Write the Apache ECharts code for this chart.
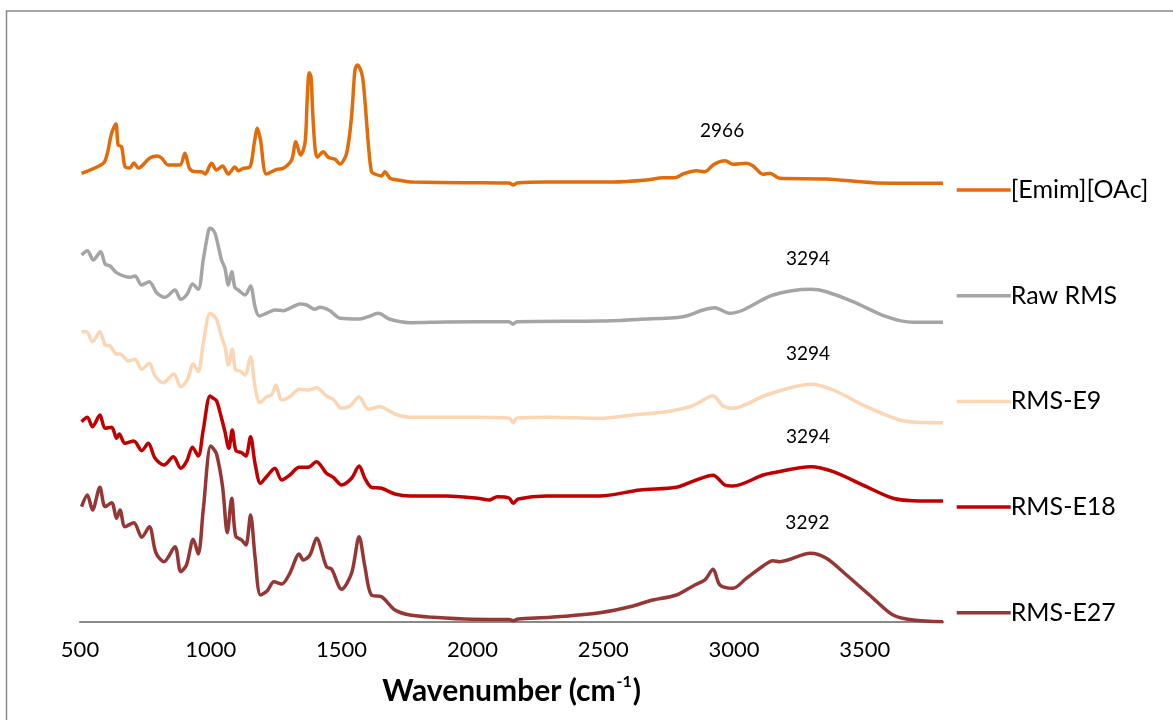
<!DOCTYPE html>
<html>
<head>
<meta charset="utf-8">
<script src="https://cdn.jsdelivr.net/npm/echarts@6/dist/echarts.min.js"></script>
<style>
  html, body { margin: 0; padding: 0; background: #ffffff; }
  #chart { width: 1173px; height: 720px; }
</style>
</head>
<body>
<div id="chart"></div>
<script>
// FTIR spectra, stacked with vertical offsets (absorbance, a.u.)
const seriesNames = ['[Emim][OAc]', 'Raw RMS', 'RMS-E9', 'RMS-E18', 'RMS-E27'];
const seriesColors = ['#E36C0A', '#A5A5A5', '#FCD5B5', '#C00000', '#953735'];

const emimWn  = [506,589,604,621,637,646,659,672,691,706,723,767,795,812,837,882,901,920,946,965,978,1003,1022,1045,1067,1092,1105,1124,1150,1166,1178,1190,1213,1252,1277,1309,1325,1343,1360,1369,1376,1383,1389,1398,1407,1430,1449,1475,1494,1519,1538,1551,1560,1570,1580,1589,1602,1614,1627,1653,1665,1685,1697,1755,1774,1965,2140,2156,2170,2283,2538,2665,2729,2774,2805,2856,2888,2920,2946,2966,2996,3047,3073,3111,3137,3175,3353,3532,3700,3799];
const emimAbs = [4.487,4.587,4.68,4.89,4.98,4.77,4.753,4.553,4.54,4.59,4.54,4.64,4.66,4.64,4.57,4.57,4.687,4.53,4.503,4.503,4.48,4.587,4.52,4.56,4.48,4.55,4.513,4.537,4.553,4.787,4.937,4.82,4.48,4.527,4.537,4.62,4.803,4.67,4.787,5.253,5.493,5.453,5.12,4.753,4.647,4.703,4.647,4.627,4.58,4.687,5.053,5.52,5.57,5.537,5.453,5.22,4.787,4.503,4.48,4.46,4.503,4.437,4.427,4.403,4.40,4.393,4.39,4.37,4.39,4.40,4.40,4.42,4.443,4.443,4.48,4.513,4.503,4.57,4.603,4.613,4.577,4.587,4.56,4.477,4.487,4.437,4.43,4.393,4.387,4.387];

const rawWn  = [506,528,551,579,596,615,640,691,710,736,765,793,825,863,885,910,930,952,971,990,997,1005,1016,1032,1041,1054,1067,1080,1092,1105,1131,1152,1169,1185,1213,1245,1277,1309,1341,1366,1398,1417,1455,1494,1570,1602,1640,1685,1761,1900,2140,2155,2170,2487,2640,2805,2882,2926,2984,3035,3149,3294,3353,3455,3582,3684,3799];
const rawAbs = [3.67,3.713,3.62,3.703,3.58,3.56,3.493,3.447,3.46,3.37,3.403,3.293,3.247,3.32,3.227,3.28,3.38,3.327,3.62,3.90,3.937,3.93,3.887,3.72,3.62,3.537,3.37,3.503,3.347,3.32,3.27,3.36,3.153,3.06,3.087,3.12,3.113,3.147,3.18,3.17,3.127,3.147,3.113,3.037,3.03,3.053,3.087,3.027,2.993,3.00,3.003,2.977,3.003,3.01,3.027,3.053,3.12,3.143,3.087,3.12,3.27,3.327,3.303,3.203,3.053,2.997,2.997];

const e9Wn  = [506,525,548,576,596,615,640,653,685,710,736,765,787,818,859,885,910,933,952,971,997,1008,1022,1041,1054,1067,1082,1095,1111,1131,1152,1169,1188,1213,1232,1249,1271,1302,1338,1372,1404,1442,1468,1500,1532,1567,1602,1646,1704,1761,2000,2140,2156,2170,2300,2487,2614,2741,2831,2856,2920,2958,2996,3124,3294,3379,3506,3633,3700,3799];
const e9Abs = [2.903,2.903,2.803,2.903,2.77,2.76,2.68,2.68,2.61,2.627,2.527,2.587,2.46,2.393,2.48,2.353,2.42,2.58,2.503,2.787,3.087,3.07,3.027,2.853,2.753,2.57,2.727,2.52,2.513,2.47,2.653,2.353,2.193,2.253,2.27,2.37,2.22,2.253,2.327,2.32,2.343,2.26,2.227,2.137,2.16,2.253,2.127,2.153,2.08,2.047,2.047,2.04,1.993,2.04,2.047,2.037,2.07,2.103,2.153,2.18,2.263,2.16,2.137,2.27,2.377,2.32,2.153,2.02,1.997,1.993];

const e18Wn  = [506,528,548,576,596,621,640,650,672,706,736,761,787,821,857,885,907,930,952,971,997,1008,1022,1041,1054,1069,1082,1096,1118,1134,1152,1169,1190,1213,1245,1271,1302,1338,1372,1404,1442,1468,1500,1538,1567,1589,1614,1653,1704,1761,1900,2020,2065,2095,2140,2156,2175,2283,2487,2640,2780,2856,2920,2965,2996,3111,3149,3294,3379,3506,3608,3684,3799];
const e18Abs = [2.003,2.047,1.953,2.07,1.937,1.947,1.837,1.88,1.787,1.81,1.713,1.787,1.637,1.57,1.653,1.537,1.603,1.747,1.66,1.92,2.26,2.24,2.213,2.037,1.903,1.737,1.92,1.713,1.693,1.66,1.853,1.587,1.387,1.453,1.537,1.42,1.47,1.547,1.547,1.603,1.487,1.447,1.37,1.437,1.56,1.437,1.347,1.337,1.28,1.26,1.26,1.237,1.22,1.253,1.24,1.187,1.23,1.26,1.26,1.32,1.347,1.42,1.467,1.37,1.36,1.47,1.493,1.553,1.503,1.353,1.237,1.213,1.21];

const e27Wn  = [506,528,548,576,596,621,640,653,672,706,736,765,790,821,863,885,907,933,952,971,999,1008,1022,1045,1063,1080,1095,1118,1134,1152,1169,1190,1216,1241,1271,1302,1338,1353,1379,1404,1442,1462,1500,1538,1567,1589,1614,1653,1704,1761,1850,2000,2140,2156,2175,2300,2487,2614,2678,2780,2850,2888,2920,2946,2996,3047,3111,3149,3175,3292,3353,3430,3532,3608,3684,3799];
const e27Abs = [1.153,1.27,1.12,1.347,1.153,1.193,1.037,1.12,0.953,0.993,0.847,0.953,0.693,0.603,0.753,0.503,0.57,0.827,0.68,1.12,1.76,1.74,1.68,1.353,0.893,1.237,0.86,0.82,0.77,1.07,0.653,0.27,0.313,0.403,0.38,0.487,0.68,0.62,0.67,0.837,0.553,0.527,0.327,0.487,0.853,0.553,0.27,0.253,0.12,0.07,0.047,0.027,0.025,0.013,0.03,0.047,0.093,0.16,0.213,0.27,0.37,0.42,0.527,0.37,0.337,0.437,0.56,0.613,0.603,0.687,0.637,0.47,0.237,0.07,0.02,0.003];

// Annotated peak positions (cm-1), one per spectrum
const peakWn = [2966, 3294, 3294, 3294, 3292];

const xTicks = { min: 500, max: 3800, interval: 500 };

const wnSets  = [emimWn, rawWn, e9Wn, e18Wn, e27Wn];
const absSets = [emimAbs, rawAbs, e9Abs, e18Abs, e27Abs];

const FONT = 'Lato';

const series = seriesNames.map((name, i) => {
  const wn = wnSets[i], ab = absSets[i];
  const data = wn.map((w, k) => [w, ab[k]]);
  const pk = peakWn[i];
  const idx = wn.indexOf(pk);
  return {
    name,
    type: 'line',
    data,
    showSymbol: false,
    smooth: 0.3,
    lineStyle: { width: 3.5, color: seriesColors[i] },
    itemStyle: { color: seriesColors[i] },
    z: 10 - i,
    markPoint: {
      symbol: 'circle',
      symbolSize: 0,
      silent: true,
      data: [{ coord: [pk, ab[idx]], value: pk }],
      label: {
        show: true,
        position: 'inside',
        offset: [-3, -30],
        formatter: '{c}',
        color: '#000000',
        fontFamily: FONT,
        fontSize: 19
      }
    }
  };
});

const chart = echarts.init(document.getElementById('chart'), null, { renderer: 'canvas' });
chart.setOption({
  animation: false,
  backgroundColor: '#ffffff',
  graphic: [{
    type: 'rect',
    shape: { x: 6.5, y: 11, width: 1200, height: 780 },
    style: { fill: 'none', stroke: '#898989', lineWidth: 1.5 },
    silent: true
  }],
  grid: { left: 80, right: 229.7, top: 22, bottom: 98, containLabel: false },
  xAxis: {
    type: 'value',
    min: xTicks.min,
    max: xTicks.max,
    interval: xTicks.interval,
    splitLine: { show: false },
    axisTick: { show: false },
    axisLine: { show: true, lineStyle: { color: '#898989', width: 2 } },
    axisLabel: {
      showMaxLabel: false,
      margin: 17,
      color: '#000000',
      fontFamily: FONT,
      fontSize: 22,
      formatter: v => String(v)
    },
    name: '{b|Wavenumber (cm}{s|-1}{b|)}',
    nameLocation: 'middle',
    nameGap: 52,
    nameTextStyle: {
      rich: {
        b: { fontFamily: FONT, fontSize: 30, fontWeight: 'bold', color: '#000000', lineHeight: 34 },
        s: { fontFamily: FONT, fontSize: 16, fontWeight: 'bold', color: '#000000', lineHeight: 34, verticalAlign: 'top', padding: [0, 1, 0, 1] }
      }
    }
  },
  yAxis: {
    type: 'value',
    min: 0,
    max: 6,
    show: false
  },
  legend: {
    orient: 'vertical',
    left: 951.7,
    top: 172,
    icon: 'rect',
    itemWidth: 54,
    itemHeight: 3.5,
    itemGap: 79.7,
    data: seriesNames,
    textStyle: { fontFamily: FONT, fontSize: 25, color: '#000000', lineHeight: 26, padding: [0, 0, 0, -5] }
  },
  series
});
</script>
</body>
</html>
